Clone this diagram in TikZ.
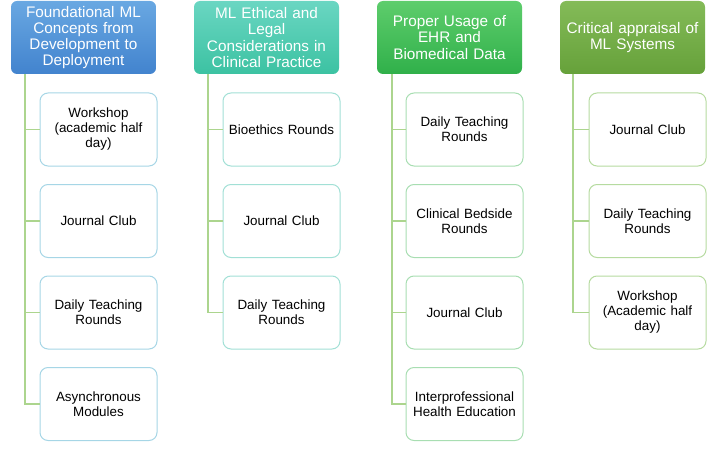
\documentclass[tikz,border=0pt]{standalone}
\usepackage{fontspec}
\setmainfont{Liberation Sans}
\definecolor{hA1}{HTML}{69A8E2}\definecolor{hA2}{HTML}{4283CE}
\definecolor{hB1}{HTML}{6AD6C2}\definecolor{hB2}{HTML}{3CC2A2}
\definecolor{hC1}{HTML}{5ECD6C}\definecolor{hC2}{HTML}{30B04A}
\definecolor{hD1}{HTML}{84BB58}\definecolor{hD2}{HTML}{66A13A}
\definecolor{bA}{HTML}{A6D6E6}\definecolor{bB}{HTML}{A2E0D6}
\definecolor{bC}{HTML}{A8DEB2}\definecolor{bD}{HTML}{B6DBA0}
\definecolor{connc}{HTML}{ACD58E}
\tikzset{
  hdr/.style={rounded corners=6pt, minimum width=145pt, minimum height=73pt, inner sep=0pt,
    text width=143pt, align=center, text=white, font=\fontsize{15.3}{16.2}\selectfont},
  kid/.style={rounded corners=8pt, draw, line width=1pt, fill=white, minimum width=117pt,
    minimum height=73pt, inner sep=0pt, text width=112pt, align=center,
    font=\fontsize{13.4}{15}\selectfont},
  conn/.style={draw=connc, line width=1.3pt}
}
\begin{document}
\begin{tikzpicture}[x=1pt,y=-1pt]
\useasboundingbox (0,0) rectangle (708,449);
% headers
\node[hdr, top color=hA1, bottom color=hA2] (h1) at (83.5,37.5) {Foundational ML\\Concepts from\\Development to\\Deployment};
\node[hdr, top color=hB1, bottom color=hB2] (h2) at (266.5,37.5) {ML Ethical and\\Legal\\Considerations in\\Clinical Practice};
\node[hdr, top color=hC1, bottom color=hC2] (h3) at (449.5,37.5) {Proper Usage of\\EHR and\\Biomedical Data};
\node[hdr, top color=hD1, bottom color=hD2] (h4) at (632.5,37.5) {Critical appraisal of\\ML Systems};
% trunk coordinates
\coordinate (t1) at (25,74);
\coordinate (t2) at (208,74);
\coordinate (t3) at (392,74);
\coordinate (t4) at (573,74);
% column 1
\node[kid, draw=bA] (a1) at (98.5,129.5) {Workshop\\(academic half\\day)};
\node[kid, draw=bA] (a2) at (98.5,221) {Journal Club};
\node[kid, draw=bA] (a3) at (98.5,312.5) {Daily Teaching\\Rounds};
\node[kid, draw=bA] (a4) at (98.5,404) {Asynchronous\\Modules};
% column 2
\node[kid, draw=bB] (b1) at (281.5,129.5) {Bioethics Rounds};
\node[kid, draw=bB] (b2) at (281.5,221) {Journal Club};
\node[kid, draw=bB] (b3) at (281.5,312.5) {Daily Teaching\\Rounds};
% column 3
\node[kid, draw=bC] (c1) at (464.5,129.5) {Daily Teaching\\Rounds};
\node[kid, draw=bC] (c2) at (464.5,221) {Clinical Bedside\\Rounds};
\node[kid, draw=bC] (c3) at (464.5,312.5) {Journal Club};
\node[kid, draw=bC] (c4) at (464.5,404) {Interprofessional\\Health Education};
% column 4
\node[kid, draw=bD] (d1) at (647.5,129.5) {Journal Club};
\node[kid, draw=bD] (d2) at (647.5,221) {Daily Teaching\\Rounds};
\node[kid, draw=bD] (d3) at (647.5,312.5) {Workshop\\(Academic half\\day)};
% connectors
\draw[conn] (t1) |- (a4.west);
\foreach \n in {a1,a2,a3} \draw[conn] (t1 |- \n.west) -- (\n.west);
\draw[conn] (t2) |- (b3.west);
\foreach \n in {b1,b2} \draw[conn] (t2 |- \n.west) -- (\n.west);
\draw[conn] (t3) |- (c4.west);
\foreach \n in {c1,c2,c3} \draw[conn] (t3 |- \n.west) -- (\n.west);
\draw[conn] (t4) |- (d3.west);
\foreach \n in {d1,d2} \draw[conn] (t4 |- \n.west) -- (\n.west);
\end{tikzpicture}
\end{document}
